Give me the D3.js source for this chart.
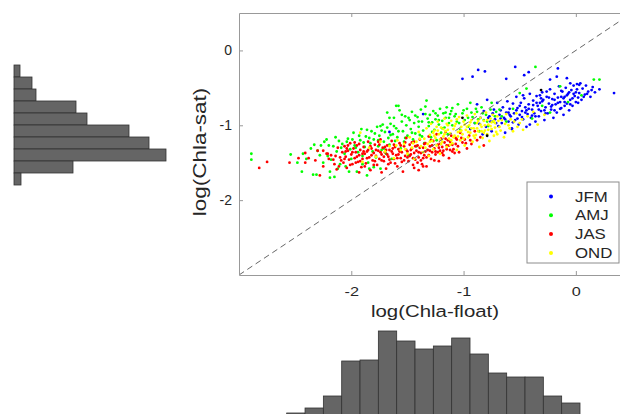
<!DOCTYPE html>
<html>
<head>
  <meta charset="utf-8">
  <title>Chla float vs satellite</title>
  <script src="https://d3js.org/d3.v7.min.js"></script>
  <style>
    body { margin: 0; background: #fff; }
    svg { font-family: "Liberation Sans", Arial, sans-serif; }
    .axis path, .axis line { stroke: #999; }
    .axis text { fill: #262626; font-size: 14px; }
    .xaxis text { font-size: 13px; }
    .bar { fill: #656565; stroke: #333; stroke-width: 0.8px; }
  </style>
</head>
<body>
<svg width="620" height="414"></svg>
<script>
  // season groups, [log(Chla-float), log(Chla-sat)]
  var seasons = ["JFM", "AMJ", "JAS", "OND"];
  var seasonColors = ["#0000ff", "#00ff00", "#ff0000", "#ffff00"];

  var jfm = [
    [-1.66,-1.09],[-1.36,-0.85],[-1.01,-0.38],[-0.92,-0.35],[-0.87,-0.26],[-0.81,-0.28],[-0.54,-0.22],[-0.62,-0.38],
    [-0.46,-0.33],[-0.42,-0.29],[-0.16,-0.24],[-0.17,-0.35],[-0.23,-0.39],[-0.08,-0.37],[-0.05,-0.44],[0.01,-0.45],
    [0.03,-0.46],[0.34,-0.57],[-0.02,-0.58],[-0.13,-0.54],[-0.11,-0.64],[-0.14,-0.78],
    [-0.94,-1.05],[-0.90,-0.97],[-0.88,-0.72],[-0.85,-0.90],[-0.83,-1.12],[-0.82,-0.81],[-0.80,-1.02],[-0.79,-0.66],
    [-0.77,-0.88],[-0.76,-0.95],[-0.75,-1.08],[-0.73,-0.79],[-0.72,-0.92],[-0.70,-0.70],[-0.69,-1.01],[-0.68,-0.86],
    [-0.66,-0.97],[-0.65,-0.76],[-0.64,-0.90],[-0.63,-1.10],[-0.62,-0.83],[-0.61,-0.68],[-0.60,-0.95],
    [-0.59,-0.78],[-0.58,-0.88],[-0.57,-1.04],[-0.56,-0.71],[-0.55,-0.84],[-0.54,-0.93],[-0.53,-0.62],[-0.52,-0.77],
    [-0.51,-0.99],[-0.50,-0.86],[-0.49,-0.70],[-0.48,-0.81],[-0.47,-0.92],[-0.46,-0.64],[-0.45,-0.76],[-0.44,-1.02],
    [-0.43,-0.85],[-0.42,-0.72],[-0.41,-0.58],[-0.40,-0.90],
    [-0.39,-0.79],[-0.38,-0.67],[-0.37,-0.84],[-0.36,-0.95],[-0.35,-0.61],[-0.34,-0.74],[-0.33,-0.88],[-0.32,-0.70],
    [-0.31,-0.81],[-0.30,-0.56],[-0.29,-0.66],[-0.28,-0.93],[-0.27,-0.76],[-0.26,-0.62],[-0.25,-0.84],[-0.24,-0.71],
    [-0.23,-0.52],[-0.22,-0.79],[-0.21,-0.65],[-0.20,-0.90],
    [-0.19,-0.58],[-0.18,-0.72],[-0.17,-0.83],[-0.16,-0.63],[-0.15,-0.48],[-0.14,-0.69],[-0.13,-0.77],[-0.12,-0.55],
    [-0.11,-0.86],[-0.10,-0.62],[-0.09,-0.50],[-0.08,-0.71],[-0.07,-0.58],[-0.06,-0.80],[-0.05,-0.66],[-0.04,-0.53],
    [-0.03,-0.74],[-0.02,-0.47],[-0.01,-0.61],[0.00,-0.69],
    [0.01,-0.52],[0.02,-0.63],[0.03,-0.57],[0.04,-0.44],[0.05,-0.66],[0.06,-0.51],[0.08,-0.59],[0.09,-0.47],
    [0.11,-0.55],[0.13,-0.62],[0.15,-0.49],[0.17,-0.56],[0.21,-0.52],
    [-0.57,-1.05],[-0.41,-0.99],[-0.47,-0.60],[-0.35,-0.70],[-0.28,-0.80],[-0.60,-0.83],[-0.52,-0.91],[-0.39,-0.87],
    [-0.21,-0.73],[-0.10,-0.74],[-0.31,-0.64],[-0.44,-0.80],[-0.67,-0.91],[-0.19,-0.66],[-0.06,-0.56],
    [-0.86,-0.98],[-0.78,-0.90],[-0.74,-0.84],[-0.71,-0.97],[-0.67,-0.80],[-0.63,-0.92],[-0.59,-0.86],[-0.56,-0.96],
    [-0.53,-0.80],[-0.50,-0.74],[-0.48,-0.89],[-0.45,-0.83],[-0.42,-0.78],[-0.38,-0.73],[-0.36,-0.88],[-0.33,-0.79],
    [-0.30,-0.68],[-0.27,-0.84],[-0.24,-0.63],[-0.22,-0.75],[-0.19,-0.80],[-0.16,-0.70],[-0.13,-0.62],[-0.10,-0.69],
    [-0.08,-0.60],[-0.05,-0.72],[-0.03,-0.64],[0.00,-0.56],[0.02,-0.70],[0.07,-0.62],[0.10,-0.58],[0.14,-0.53],
    [-0.26,-0.55],[-0.32,-0.60]
  ];

  var amj = [
    [-2.89,-1.38],[-2.89,-1.46],[-2.54,-1.39],[-2.48,-1.50],[-2.44,-1.62],[-2.43,-1.38],[-2.36,-1.31],[-2.30,-1.34],
    [-2.34,-1.66],[-2.31,-1.66],[-2.27,-1.27],[-2.24,-1.22],[-2.22,-1.19],[-2.25,-1.50],[-2.19,-1.62],[-2.19,-1.70],
    [-2.15,-1.69],[-2.18,-1.46],[-2.13,-1.35],[-2.11,-1.21],[-2.10,-1.52],[-2.16,-1.28],[-2.21,-1.41],[-2.12,-1.58],
    [-2.08,-1.25],[-2.06,-1.38],[-2.05,-1.55],[-2.03,-1.18],[-2.01,-1.32],[-2.00,-1.45],[-1.98,-1.10],[-1.97,-1.27],
    [-1.95,-1.62],[-1.94,-1.36],[-1.92,-1.20],[-1.91,-1.05],[-1.90,-1.41],[-1.88,-1.29],[-1.87,-1.15],[-1.86,-1.67],
    [-1.85,-1.50],[-1.83,-1.24],[-1.82,-1.08],[-1.81,-1.35],[-1.80,-1.19],[-1.78,-1.43],[-1.77,-1.02],[-1.76,-1.28],
    [-1.75,-1.14],[-1.74,-1.58],[-1.73,-1.33],[-1.72,-0.99],[-1.71,-1.22],[-1.70,-1.09],[-1.69,-1.38],[-1.68,-0.83],
    [-1.67,-1.17],[-1.66,-1.26],[-1.65,-0.98],[-1.64,-1.45],[-1.63,-1.12],[-1.62,-0.90],[-1.61,-1.21],[-1.60,-1.04],
    [-1.90,-1.52],[-1.84,-1.58],[-1.80,-1.56],[-1.66,-0.90],[-1.74,-1.01],
    [-1.58,-0.74],[-1.57,-0.80],[-1.60,-0.74],[-1.59,-1.16],[-1.56,-1.31],[-1.55,-0.95],[-1.54,-1.08],[-1.53,-1.22],
    [-1.52,-0.88],[-1.51,-1.00],[-1.50,-1.14],[-1.49,-1.40],[-1.48,-0.93],[-1.47,-1.05],[-1.46,-0.82],[-1.45,-1.19],
    [-1.44,-0.97],[-1.43,-1.11],[-1.42,-1.28],[-1.41,-0.89],[-1.40,-1.02],[-1.39,-1.13],[-1.38,-0.79],[-1.37,-0.95],
    [-1.36,-1.07],[-1.35,-1.24],[-1.34,-0.75],[-1.33,-0.67],[-1.32,-0.91],[-1.31,-1.01],[-1.30,-0.86],[-1.29,-1.16],
    [-1.28,-0.96],[-1.27,-0.81],[-1.26,-1.06],[-1.25,-0.92],[-1.24,-1.20],[-1.23,-0.87],[-1.22,-0.99],[-1.21,-0.78],
    [-1.20,-1.10],[-1.19,-0.94],[-1.18,-0.84],[-1.17,-1.03],[-1.16,-0.90],[-1.15,-0.76],[-1.14,-1.12],[-1.13,-0.97],
    [-1.12,-0.85],[-1.11,-0.81],[-1.10,-1.00],
    [-1.08,-0.88],[-1.06,-0.95],[-1.05,-0.72],[-1.03,-1.06],[-1.01,-0.84],[-0.99,-0.93],[-0.97,-0.78],[-0.96,-1.02],
    [-0.94,-0.70],[-0.92,-0.89],[-0.90,-0.97],[-0.88,-0.82],[-0.86,-1.08],[-0.84,-0.76],[-0.82,-0.93],[-0.80,-0.86],
    [-0.78,-1.01],[-0.76,-0.79],[-0.74,-0.95],[-0.72,-0.88],
    [-0.36,-0.22],[0.16,-0.39],[-0.07,-0.69],[-0.89,-0.78],[-0.50,-0.57],[-0.23,-0.83],[-0.56,-0.78],[-0.39,-0.91],
    [-0.44,-0.51],[-0.14,-0.48],[-0.68,-0.79],[-0.62,-0.95],[-0.30,-0.74],[0.05,-0.60],[-0.75,-0.70],[0.21,-0.39],
    [-2.40,-1.45],[-2.33,-1.26],[-2.28,-1.40],[-2.20,-1.27],[-2.14,-1.16],[-2.09,-1.30],[-2.04,-1.22],[-2.02,-1.62],
    [-1.99,-1.19],[-1.96,-1.30],[-1.93,-1.14],[-1.89,-1.23],[-1.86,-1.06],[-1.84,-1.17],[-1.79,-1.11],[-1.76,-1.20],
    [-1.73,-1.07],[-1.71,-1.31],[-1.68,-1.03],[-1.65,-1.13],[-1.62,-1.01],[-1.58,-1.08],[-1.55,-0.86],[-1.52,-1.17],
    [-1.49,-0.90],[-1.46,-1.10],[-1.43,-0.87],[-1.40,-0.95],[-1.37,-1.15],[-1.34,-0.85],[-1.31,-0.96],[-1.28,-1.09],
    [-1.25,-0.84],[-1.22,-0.93],[-1.19,-1.04],[-1.16,-0.83],[-1.13,-0.90],[-1.10,-0.77],[-1.07,-0.85],[-1.04,-0.97],
    [-1.00,-0.80],[-0.96,-0.90],[-0.93,-0.83],[-0.87,-0.92],[-0.83,-0.84],[-0.79,-0.95],[-0.71,-0.82],[-0.66,-0.88]
  ];

  var jas = [
    [-2.75,-1.49],[-2.82,-1.57],[-2.55,-1.50],[-2.41,-1.37],[-2.41,-1.50],[-2.47,-1.44],[-2.38,-1.44],[-2.32,-1.47],
    [-2.25,-1.34],[-2.22,-1.38],[-2.28,-1.67],[-2.13,-1.59],[-2.30,-1.34],[-2.21,-1.38],[-2.25,-1.55],[-2.15,-1.52],
    [-2.10,-1.43],[-2.18,-1.40],[-2.12,-1.30],[-2.16,-1.46],[-2.08,-1.36],[-2.07,-1.50],[-2.06,-1.28],[-2.05,-1.42],
    [-2.04,-1.57],[-2.03,-1.34],[-2.02,-1.46],[-2.01,-1.24],[-2.00,-1.39],[-1.99,-1.52],[-1.98,-1.31],[-1.97,-1.44],
    [-1.96,-1.36],[-1.95,-1.27],[-1.94,-1.49],[-1.93,-1.40],[-1.92,-1.33],[-1.91,-1.56],[-1.90,-1.45],[-1.89,-1.29],
    [-1.88,-1.38],[-1.87,-1.51],[-1.86,-1.35],[-1.85,-1.22],[-1.84,-1.43],[-1.83,-1.60],[-1.82,-1.31],[-1.81,-1.47],
    [-1.80,-1.37],[-1.79,-1.26],[-1.78,-1.41],[-1.77,-1.53],[-1.76,-1.34],[-1.75,-1.45],[-1.74,-1.19],[-1.73,-1.39],
    [-1.72,-1.30],[-1.71,-1.48],[-1.70,-1.36],[-1.69,-1.58],[-1.68,-1.27],[-1.67,-1.42],[-1.66,-1.33],[-1.65,-1.50],
    [-1.64,-1.21],[-1.63,-1.38],[-1.62,-1.45],[-1.61,-1.29],[-1.60,-1.40],[-1.59,-1.55],[-1.58,-1.32],[-1.57,-1.24],
    [-1.56,-1.44],[-1.55,-1.36],[-1.54,-1.62],[-1.53,-1.28],[-1.52,-1.41],[-1.51,-1.17],[-1.50,-1.35],[-1.49,-1.48],
    [-1.48,-1.26],[-1.47,-1.39],[-1.46,-1.31],[-1.45,-1.53],[-1.44,-1.22],[-1.43,-1.46],[-1.42,-1.34],[-1.41,-1.27],
    [-1.40,-1.43],[-1.39,-1.19],[-1.38,-1.37],[-1.37,-1.52],[-1.36,-1.30],[-1.35,-1.40],[-1.34,-1.24],[-1.33,-1.55],
    [-1.32,-1.33],[-1.31,-1.15],[-1.30,-1.28],[-1.29,-1.45],[-1.28,-1.36],[-1.27,-1.21],[-1.26,-1.31],[-1.25,-1.39],
    [-1.24,-1.12],[-1.23,-1.26],[-1.22,-1.48],[-1.21,-1.34],[-1.20,-1.18],[-1.19,-1.29],[-1.18,-1.40],[-1.17,-1.23],
    [-1.16,-1.09],[-1.15,-1.32],[-1.14,-1.20],[-1.13,-1.44],[-1.12,-1.33],[-1.11,-1.14],[-1.10,-1.26],[-1.08,-1.37],
    [-1.06,-1.19],[-1.05,-1.28],[-1.03,-1.10],[-1.01,-1.23],[-0.99,-1.19],[-0.97,-1.31],[-0.95,-1.14],[-0.93,-1.25],
    [-0.90,-1.08],[-0.88,-1.20],[-0.85,-1.16],[-0.82,-1.27],
    [-2.09,-1.47],[-2.04,-1.31],[-2.01,-1.53],[-1.97,-1.23],[-1.95,-1.42],[-1.92,-1.48],[-1.89,-1.35],[-1.86,-1.44],
    [-1.83,-1.28],[-1.80,-1.53],[-1.78,-1.33],[-1.75,-1.26],[-1.73,-1.47],[-1.70,-1.29],[-1.68,-1.39],[-1.66,-1.46],
    [-1.63,-1.31],[-1.61,-1.51],[-1.58,-1.39],[-1.56,-1.27],[-1.53,-1.47],[-1.51,-1.33],[-1.48,-1.41],[-1.46,-1.23],
    [-1.44,-1.37],[-1.41,-1.50],[-1.39,-1.30],[-1.36,-1.44],[-1.34,-1.35],[-1.31,-1.40],[-1.29,-1.20],[-1.26,-1.47],
    [-1.23,-1.36],[-1.21,-1.25],[-1.18,-1.34],[-1.15,-1.27],[-1.12,-1.22],[-1.09,-1.32],[-1.07,-1.17],[-1.04,-1.36],
    [-2.20,-1.45],[-2.14,-1.41],[-2.11,-1.55],[-2.06,-1.45],[-2.03,-1.27],[-1.99,-1.36],[-1.96,-1.50],[-1.93,-1.25],
    [-1.90,-1.38],[-1.88,-1.55],[-1.85,-1.33],[-1.82,-1.40],[-1.79,-1.48],[-1.76,-1.22],[-1.74,-1.36],[-1.71,-1.42],
    [-1.69,-1.33],[-1.67,-1.52],[-1.64,-1.35],[-1.62,-1.26],[-1.59,-1.44],[-1.57,-1.35],[-1.55,-1.49],[-1.52,-1.23],
    [-1.50,-1.43],[-1.47,-1.33],[-1.45,-1.44],[-1.43,-1.28],[-1.40,-1.36],[-1.38,-1.47],[-1.35,-1.25],[-1.33,-1.43],
    [-1.30,-1.34],[-1.28,-1.27],[-1.25,-1.35],[-1.22,-1.30],[-1.19,-1.37],[-1.16,-1.18],[-1.13,-1.27],[-1.10,-1.35],
    [-1.07,-1.25],[-1.02,-1.17],[-0.98,-1.24],[-0.94,-1.20],[-1.44,-1.57],[-1.40,-1.60],[-1.36,-1.55],[-1.73,-1.63],
    [-1.93,-1.63],[-2.05,-1.35]
  ];

  var ond = [
    [-1.92,-1.10],[-1.90,-1.49],[-1.84,-1.30],[-1.78,-1.42],[-1.74,-1.22],[-1.70,-1.35],[-1.66,-1.28],[-1.62,-1.44],
    [-1.59,-1.20],[-1.56,-1.33],[-1.53,-1.25],[-1.50,-1.38],[-1.48,-1.16],[-1.46,-1.30],[-1.44,-1.45],[-1.42,-1.22],
    [-1.40,-1.09],[-1.38,-1.28],[-1.36,-1.36],[-1.35,-1.18],[-1.33,-1.04],[-1.32,-1.25],[-1.31,-1.41],[-1.30,-1.13],
    [-1.29,-0.98],[-1.28,-1.21],[-1.27,-1.32],[-1.26,-1.07],[-1.25,-1.17],[-1.24,-1.27],[-1.23,-0.95],[-1.22,-1.12],
    [-1.21,-1.38],[-1.20,-1.03],[-1.19,-1.22],[-1.18,-1.15],[-1.17,-0.91],[-1.16,-1.08],[-1.15,-1.29],[-1.14,-1.00],
    [-1.13,-1.18],[-1.12,-1.11],[-1.11,-0.94],[-1.10,-1.24],[-1.09,-1.05],[-1.08,-1.14],[-1.07,-0.98],[-1.06,-1.33],
    [-1.05,-1.09],[-1.04,-0.89],[-1.03,-1.20],[-1.02,-1.02],[-1.01,-1.12],[-1.00,-0.95],[-0.99,-1.27],[-0.98,-1.06],
    [-0.97,-0.87],[-0.96,-1.16],[-0.95,-1.00],[-0.94,-1.10],[-0.93,-0.93],[-0.92,-1.22],[-0.91,-1.04],[-0.90,-0.85],
    [-0.89,-1.13],[-0.88,-0.97],[-0.87,-1.08],[-0.86,-1.29],[-0.85,-0.90],[-0.84,-1.02],[-0.83,-1.17],[-0.82,-0.94],
    [-0.81,-1.07],[-0.80,-0.83],[-0.79,-1.12],[-0.78,-0.99],[-0.77,-1.21],[-0.76,-0.91],[-0.75,-1.05],[-0.74,-0.86],
    [-0.73,-1.14],[-0.72,-0.97],[-0.71,-1.09],[-0.70,-0.88],[-0.68,-1.02],[-0.66,-0.93],[-0.64,-1.16],[-0.62,-0.85],
    [-0.60,-1.00],[-0.58,-0.92],[-0.56,-1.08],[-0.53,-0.84],[-0.50,-0.97],[-0.47,-1.06],[-0.43,-0.88],[-0.38,-0.82],
    [-0.34,-0.99],[-0.28,-0.86],
    [-1.27,-1.10],[-1.24,-1.02],[-1.21,-1.19],[-1.18,-1.05],[-1.15,-0.98],[-1.12,-1.26],[-1.09,-1.16],[-1.06,-0.92],
    [-1.03,-1.08],[-1.00,-1.18],[-0.97,-1.02],[-0.94,-0.96],[-0.91,-1.14],[-0.88,-1.04],[-0.85,-0.99],[-0.82,-1.10],
    [-0.79,-0.93],[-0.76,-1.01],[-0.73,-0.94],[-0.70,-1.12],
    [-1.26,-1.14],[-1.23,-1.07],[-1.20,-1.25],[-1.17,-1.12],[-1.14,-1.06],[-1.11,-1.20],[-1.08,-1.01],[-1.05,-1.15],
    [-1.02,-1.07],[-0.99,-0.99],[-0.96,-1.09],[-0.93,-1.04],[-0.90,-1.17],[-0.87,-0.94],[-0.84,-1.08],[-0.81,-1.00],
    [-0.78,-1.06],[-0.75,-0.96],[-0.72,-1.03],[-0.69,-0.94],[-0.67,-1.07],[-0.63,-0.98],[-0.59,-1.04],[-0.55,-0.95],
    [-0.52,-1.02],[-0.48,-0.92],[-1.45,-1.24],[-1.39,-1.18],[-1.34,-1.30],[-1.30,-1.22],[-1.52,-1.32],[-1.60,-1.27]
  ];

  // a few points without a season
  var other = [[-0.31,-0.53],[-0.79,-1.14],[-1.01,-0.90]];

  var xTicks = [-2, -1, 0];
  var yTicks = [-2, -1, 0];

  // marginal histograms (counts per bin)
  var satCounts = [6, 18, 22, 62, 73, 115, 135, 152, 59, 7];
  var floatCounts = [7, 12, 24, 59, 60, 89, 79, 71, 74, 82, 66, 47, 43, 43, 24, 17];

  var svg = d3.select("svg");

  // main scatter axes
  var x = d3.scaleLinear().domain([-3, 0.5]).range([239, 632]);
  var y = d3.scaleLinear().domain([-3, 0.5]).range([275, 13]);

  svg.append("defs").append("clipPath").attr("id", "plotclip")
    .append("rect").attr("x", 239).attr("y", 13).attr("width", 393).attr("height", 262);

  var plot = svg.append("g").attr("clip-path", "url(#plotclip)");

  var groups = [jfm, amj, jas, ond];
  groups.forEach(function (pts, i) {
    plot.append("g").selectAll("circle")
      .data(pts)
      .enter()
      .append("circle")
      .attr("cx", function (d) { return x(d[0]); })
      .attr("cy", function (d) { return y(d[1]); })
      .attr("r", 1.4)
      .style("fill", seasonColors[i]);
  });
  plot.append("g").selectAll("circle")
    .data(other)
    .enter()
    .append("circle")
    .attr("cx", function (d) { return x(d[0]); })
    .attr("cy", function (d) { return y(d[1]); })
    .attr("r", 1.4)
    .style("fill", "#000");

  // 1:1 line
  var oneToOne = [-3, 0.5];
  plot.append("path")
    .datum(oneToOne)
    .attr("d", d3.line().x(function (d) { return x(d); }).y(function (d) { return y(d); }))
    .style("fill", "none")
    .style("stroke", "#666")
    .style("stroke-width", 1)
    .style("stroke-dasharray", "6,4");

  svg.append("g").attr("class", "axis xaxis")
    .attr("transform", "translate(0,275)")
    .call(d3.axisBottom(x).tickValues(xTicks).tickFormat(d3.format("d"))
      .tickSizeInner(-4).tickSizeOuter(0).tickPadding(12));
  svg.append("g").attr("class", "axis")
    .attr("transform", "translate(0,13)")
    .call(d3.axisTop(x).tickValues(xTicks).tickFormat("")
      .tickSizeInner(-4).tickSizeOuter(0));
  svg.append("g").attr("class", "axis")
    .attr("transform", "translate(239,0)")
    .call(d3.axisLeft(y).tickValues(yTicks).tickFormat(d3.format("d"))
      .tickSizeInner(-4).tickSizeOuter(0).tickPadding(7));

  svg.selectAll(".axis text").text(function () {
    return this.textContent.replace("\u2212", "-");
  });
  svg.selectAll(".xaxis text").attr("transform", "scale(1.25,1)");

  svg.append("text")
    .attr("transform", "translate(435,317) scale(1.2,1)")
    .attr("text-anchor", "middle")
    .style("font-size", "17px").style("fill", "#262626")
    .text("log(Chla-float)");
  svg.append("text")
    .attr("transform", "translate(206,152) rotate(-90) scale(1.25,1)")
    .attr("text-anchor", "middle")
    .style("font-size", "18px").style("fill", "#262626")
    .text("log(Chla-sat)");

  // legend
  var legend = svg.append("g").attr("transform", "translate(527,182)");
  legend.append("rect")
    .attr("width", 92).attr("height", 81)
    .style("fill", "#fff").style("stroke", "#8c8c8c").style("stroke-width", 1);
  seasons.forEach(function (s, i) {
    var row = legend.append("g").attr("transform", "translate(0," + (14.5 + i * 18.8) + ")");
    row.append("circle").attr("cx", 24).attr("cy", 0).attr("r", 2).style("fill", seasonColors[i]);
    row.append("text").attr("transform", "translate(48,5) scale(1.2,1)")
      .style("font-size", "14px").style("fill", "#262626").text(s);
  });

  // left marginal histogram (horizontal bars)
  var lhBin = d3.scaleLinear().domain([0, satCounts.length]).range([65, 185]);
  var lhLen = d3.scaleLinear().domain([0, 100]).range([14, 114]);
  svg.append("g").selectAll("rect")
    .data(satCounts)
    .enter()
    .append("rect")
    .attr("class", "bar")
    .attr("x", lhLen(0))
    .attr("y", function (d, i) { return lhBin(i); })
    .attr("width", function (d) { return lhLen(d) - lhLen(0); })
    .attr("height", function (d, i) { return lhBin(i + 1) - lhBin(i); });

  // bottom marginal histogram (cut by the page edge)
  var bhBin = d3.scaleLinear().domain([0, floatCounts.length]).range([286.7, 580]);
  var bhLen = d3.scaleLinear().domain([0, 100]).range([420, 320]);
  svg.append("g").selectAll("rect")
    .data(floatCounts)
    .enter()
    .append("rect")
    .attr("class", "bar")
    .attr("x", function (d, i) { return bhBin(i); })
    .attr("y", function (d) { return bhLen(d); })
    .attr("width", function (d, i) { return bhBin(i + 1) - bhBin(i); })
    .attr("height", function (d) { return bhLen(0) - bhLen(d); });
</script>
</body>
</html>
